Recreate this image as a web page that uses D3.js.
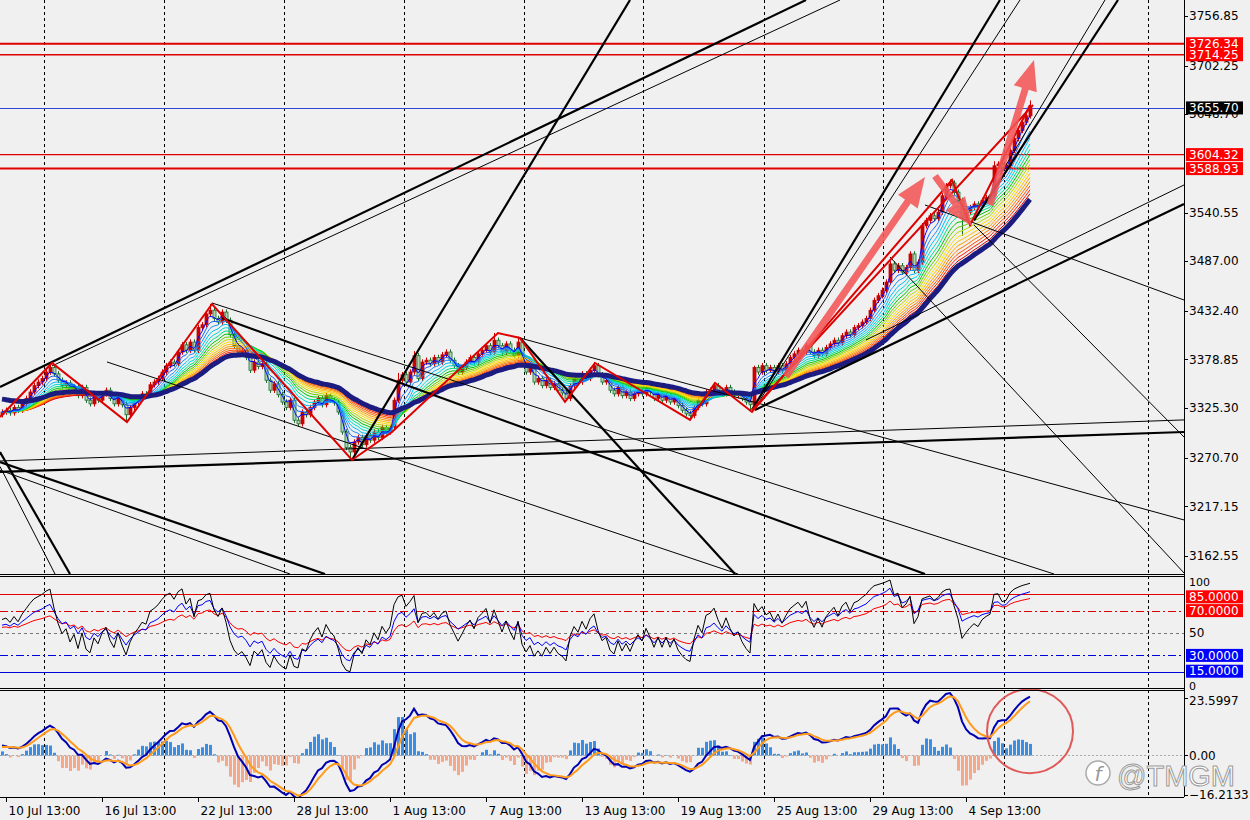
<!DOCTYPE html>
<html><head><meta charset="utf-8">
<script src="https://cdn.jsdelivr.net/npm/d3@7"></script>
<style>
body{margin:0;background:#f0f0f0;}
svg{display:block;font-family:Tahoma,"DejaVu Sans",Verdana,sans-serif;}
</style></head>
<body><svg id="c" width="1250" height="820"></svg>
<script>
// ---------------- DATA ----------------
const firstBar = -1;                     // bar index of first close (bar 0 = "10 Jul 13:00")
const closes = [3321,3323,3320,3326,3323,3330,3336,3343,3350,3354,3358,3365,3370,3363,3356,3350,3353,3345,3349,3339,3348,3334,3330,3339,3334,3341,3345,3336,3330,3339,3329,3318,3326,3332,3336,3341,3340,3351,3354,3358,3365,3372,3376,3374,3387,3395,3389,3398,3389,3414,3417,3429,3433,3424,3420,3431,3422,3406,3394,3387,3389,3381,3367,3376,3371,3374,3356,3345,3352,3340,3332,3326,3334,3312,3308,3321,3318,3326,3332,3336,3329,3339,3334,3331,3321,3299,3282,3277,3288,3293,3285,3295,3290,3299,3293,3304,3299,3304,3334,3356,3362,3354,3365,3383,3358,3376,3378,3374,3381,3376,3384,3387,3378,3372,3365,3370,3376,3381,3376,3385,3389,3394,3387,3400,3394,3387,3396,3389,3383,3398,3376,3365,3370,3354,3358,3350,3356,3348,3352,3345,3342,3336,3350,3358,3354,3363,3358,3367,3372,3362,3354,3356,3345,3341,3348,3339,3343,3336,3341,3345,3341,3348,3343,3336,3341,3334,3339,3332,3336,3328,3323,3319,3317,3326,3334,3330,3343,3345,3350,3345,3341,3348,3343,3339,3341,3336,3332,3329,3370,3365,3372,3367,3370,3365,3372,3367,3374,3381,3385,3389,3387,3394,3387,3383,3389,3385,3392,3396,3400,3397,3405,3409,3406,3414,3416,3420,3424,3433,3444,3449,3455,3464,3484,3477,3482,3475,3480,3495,3477,3486,3526,3532,3537,3534,3541,3559,3570,3573,3563,3554,3535,3541,3546,3550,3548,3554,3557,3559,3592,3594,3590,3592,3609,3622,3631,3640,3647,3655.7];
const firstOpen = 3318;
const highExtremes = {11:3375, 51:3440, 98:3364, 102:3388, 122:3408, 128:3404, 147:3376, 187:3372, 236:3577, 247:3597, 256:3664};
const lowExtremes = {30:3310, 86:3268, 140:3333, 171:3312, 186:3321, 239:3515};
const wickSize = 3;

const dateLabels = ["10 Jul 13:00","16 Jul 13:00","22 Jul 13:00","28 Jul 13:00","1 Aug 13:00","7 Aug 13:00","13 Aug 13:00","19 Aug 13:00","25 Aug 13:00","29 Aug 13:00","4 Sep 13:00"];
const dateLabelBars = [0,24,48,72,96,120,144,168,192,216,240];
const gridBars = [9.5,39.5,69.5,99.5,129.5,159.25,189.5,219.25,249.5,285.5];
const priceTicks = [3756.85,3702.25,3648.70,3540.55,3487.00,3432.40,3378.85,3325.30,3270.70,3217.15,3162.55];
const priceRange = [3142.7, 3774.5];
const barRange = [-1.5, 294.5];

const redLevels = [3726.34, 3714.25, 3604.32, 3588.93];
const redLevelBold = [true, false, false, true];
const bidLevel = 3655.70;

const ribbonPeriods = [3,5,7,9,11,13,15,17,19,21,23,25,27,29,31,33];
const ribbonColors = ["#0000ff","#1560ff","#1e90ff","#00bfff","#00d8d8","#00e08a","#00c800","#66d000","#b8d800","#ffe000","#ffc000","#ffa000","#ff7800","#ff5000","#ff2000","#d00000"];
const trendPeriod = 36;
const trendSeed = 3336;

// trend lines: [bar1, price1, bar2, price2]
const thickLines = [
  [-1.5, 3348.6, 200, 3774.5],
  [86.5, 3268.2, 156, 3774.5],
  [54, 3424.5, 229.75, 3142.7],
  [187.25, 3323.3, 294.5, 3550.0],
  [-1.5, 3255.0, 294.5, 3299.0],
  [186.5, 3323.3, 248.5, 3774.5],
  [242, 3532.0, 278, 3774.5],
  [128.5, 3402.5, 182.25, 3142.7],
  [-1.5, 3266.0, 79.75, 3142.7],
  [-1.5, 3277.0, 16, 3142.7]
];
const thinLines = [
  [11.5, 3371.7, 208.5, 3774.5],
  [-1.5, 3267.1, 294.5, 3312.3],
  [51.5, 3441.0, 262, 3142.7],
  [221, 3491.6, 294.75, 3142.7],
  [229.75, 3548.9, 294.5, 3444.3],
  [242, 3526.9, 294.5, 3293.5],
  [128.5, 3402.5, 294.5, 3202.2],
  [215, 3400.3, 294.5, 3570.9],
  [248.5, 3581.9, 274.75, 3774.5],
  [188.5, 3334.3, 253.5, 3774.5],
  [25.25, 3376.1, 183, 3142.7],
  [-1.5, 3261.0, 12.25, 3142.7],
  [-1.5, 3257.0, 71, 3142.7]
];
// zigzag (red)
const zigzag = [[-1.5,3315.5],[11.5,3375.0],[30.25,3310.0],[51.5,3439.9],[86.5,3268.2],[96.5,3299.0],[123,3408.0],[128.5,3402.5],[139.75,3332.1],[147.25,3375.0],[171,3312.3],[177.25,3353.0],[186.5,3321.1],[236.5,3576.4],[241,3526.9],[256,3658.9]];
const redRay = [186.5, 3323.3, 256.75, 3658.9];
// arrows [bar0, price0, bar1, price1]
const arrows = [[195, 3360, 229.75, 3579.7],[232.25, 3580.8, 241.5, 3525.8],[246, 3548.9, 257, 3708.5]];

const rsiPeriods = [6, 12, 24];
const rsiSeeds = [62, 57, 55];
const rsiColors = ["#000000","#0000ff","#ff0000"];
const stochLevels = [85, 70, 50, 30, 15];

const macdFast = 6, macdSlow = 13, macdSignal = 4, histFactor = 2.5;
const macdStart = 3.0;
const macdTicks = [23.5997, 0, -16.2133];
const circleAt = [256, 10.0];

// ---------------- LAYOUT ----------------
const W = 1184;
const svg = d3.select("#c");
const x = d3.scaleLinear().domain(barRange).range([0, W]);
const y = d3.scaleLinear().domain(priceRange).range([574, 0]);
const yS = d3.scaleLinear().domain([0,100]).range([689,577]);
const yM = d3.scaleLinear().domain([-16.2133, 23.5997]).range([795, 698]);

const bars = closes.map((c,k)=>k+firstBar);
const opens = closes.map((c,k)=>k===0?firstOpen:closes[k-1]);
const highs = closes.map((c,k)=>{const b=bars[k]; return highExtremes[b]!==undefined?highExtremes[b]:Math.max(c,opens[k])+wickSize;});
const lows = closes.map((c,k)=>{const b=bars[k]; return lowExtremes[b]!==undefined?lowExtremes[b]:Math.min(c,opens[k])-wickSize;});

svg.append("rect").attr("width",1250).attr("height",820).attr("fill","#f0f0f0");
const defs = svg.append("defs");
defs.append("clipPath").attr("id","cm").append("rect").attr("x",0).attr("y",0).attr("width",W).attr("height",574);
defs.append("clipPath").attr("id","cs").append("rect").attr("x",0).attr("y",577).attr("width",W).attr("height",111);
defs.append("clipPath").attr("id","cd").append("rect").attr("x",0).attr("y",691).attr("width",W).attr("height",106);

// grid lines
[[0,574],[576,688],[690,797]].forEach(([a,b])=>{
  svg.append("g").selectAll("line").data(gridBars).join("line")
    .attr("x1",d=>Math.round(x(d))+0.5).attr("x2",d=>Math.round(x(d))+0.5)
    .attr("y1",a).attr("y2",b).attr("stroke","#000").attr("stroke-dasharray","3,3").attr("stroke-width",1);
});

const main = svg.append("g").attr("clip-path","url(#cm)");

// horizontal levels
redLevels.forEach((p,k)=>{
  main.append("line").attr("x1",0).attr("x2",W).attr("y1",y(p)).attr("y2",y(p))
    .attr("stroke","#e00000").attr("stroke-width",redLevelBold[k]?2:1.3);
});
main.append("line").attr("x1",0).attr("x2",W).attr("y1",Math.round(y(bidLevel))+0.5).attr("y2",Math.round(y(bidLevel))+0.5).attr("stroke","#3344dd").attr("stroke-width",1);

// candles
const cg = main.append("g");
bars.forEach((b,k)=>{
  const up = closes[k] >= opens[k];
  const cx = Math.round(x(b))+0.5;
  const col = up ? "#cc0000" : "#1b6e2e";
  cg.append("line").attr("x1",cx).attr("x2",cx).attr("y1",y(highs[k])).attr("y2",y(lows[k])).attr("stroke",col).attr("stroke-width",1);
  const top = y(Math.max(opens[k],closes[k])), bot = y(Math.min(opens[k],closes[k]));
  cg.append("rect").attr("x",cx-1.5).attr("y",top).attr("width",3).attr("height",Math.max(1,bot-top))
    .attr("fill", up ? "#cc0000" : "#a8d8b0").attr("stroke",col).attr("stroke-width",0.8);
});

// EMAs
function ema(vals, period, seed){ const a=2/(period+1); let e = seed===undefined?vals[0]:seed; return vals.map(v=> (e = e + a*(v-e))); }
const lineGen = d3.line().x((d,k)=>x(bars[k])).y(d=>y(d)).curve(d3.curveMonotoneX);
ribbonPeriods.slice().reverse().forEach((p,kk)=>{
  const k = ribbonPeriods.length-1-kk;
  main.append("path").attr("d",lineGen(ema(closes,p))).attr("fill","none").attr("stroke",ribbonColors[k]).attr("stroke-width",1);
});
main.append("path").attr("d",lineGen(ema(closes,trendPeriod,trendSeed))).attr("fill","none").attr("stroke","#1c1c80").attr("stroke-width",5).attr("stroke-linejoin","round");

// trend lines
thickLines.forEach(l=>main.append("line").attr("x1",x(l[0])).attr("y1",y(l[1])).attr("x2",x(l[2])).attr("y2",y(l[3])).attr("stroke","#000").attr("stroke-width",2.2));
thinLines.forEach(l=>main.append("line").attr("x1",x(l[0])).attr("y1",y(l[1])).attr("x2",x(l[2])).attr("y2",y(l[3])).attr("stroke","#000").attr("stroke-width",1));

// zigzag
main.append("path").attr("d",d3.line().x(d=>x(d[0])).y(d=>y(d[1]))(zigzag)).attr("fill","none").attr("stroke","#dd0000").attr("stroke-width",2);
main.append("line").attr("x1",x(redRay[0])).attr("y1",y(redRay[1])).attr("x2",x(redRay[2])).attr("y2",y(redRay[3])).attr("stroke","#dd0000").attr("stroke-width",2);

// arrows
arrows.forEach(a=>{
  const x0=x(a[0]), y0=y(a[1]), x1=x(a[2]), y1=y(a[3]);
  const dx=x1-x0, dy=y1-y0, L=Math.hypot(dx,dy), ux=dx/L, uy=dy/L, nx=-uy, ny=ux;
  const hl=Math.min(30, L*0.45), hw=12, sw=3.5;
  const bx=x1-ux*hl, by=y1-uy*hl;
  const pts=[[x0+nx*sw,y0+ny*sw],[bx+nx*sw,by+ny*sw],[bx+nx*hw,by+ny*hw],[x1,y1],[bx-nx*hw,by-ny*hw],[bx-nx*sw,by-ny*sw],[x0-nx*sw,y0-ny*sw]];
  main.append("polygon").attr("points",pts.map(p=>p.join(",")).join(" ")).attr("fill","#f25555").attr("opacity",0.88);
});

// ---------- RSI panel ----------
function rsi(vals, period, seed){
  const avgL0 = 4; let al = avgL0, ag = avgL0*seed/(100-seed);
  return vals.map((v,k)=>{ if(k>0){ const ch=v-vals[k-1]; ag=(ag*(period-1)+Math.max(ch,0))/period; al=(al*(period-1)+Math.max(-ch,0))/period; } return al===0?100:100-100/(1+ag/al); });
}
const sg = svg.append("g").attr("clip-path","url(#cs)");
const lvlStyle = {85:["#e00000",null],70:["#e00000","8,3,2,3"],50:["#777","3,3"],30:["#0000dd","8,3,2,3"],15:["#0000dd",null]};
stochLevels.forEach(v=>{
  const st=lvlStyle[v];
  sg.append("line").attr("x1",0).attr("x2",W).attr("y1",Math.round(yS(v))+0.5).attr("y2",Math.round(yS(v))+0.5).attr("stroke",st[0]).attr("stroke-width",1).attr("stroke-dasharray",st[1]);
});
const sLine = d3.line().x((d,k)=>x(bars[k])).y(d=>yS(d));
rsiPeriods.slice().reverse().forEach((p,kk)=>{
  const k = rsiPeriods.length-1-kk;
  sg.append("path").attr("d",sLine(rsi(closes,p,rsiSeeds[k]))).attr("fill","none").attr("stroke",rsiColors[k]).attr("stroke-width",1);
});

// ---------- MACD panel ----------
const e1 = ema(closes, macdFast), e2 = ema(closes, macdSlow, closes[0]-macdStart*1.6);
const macd = e1.map((v,k)=>v-e2[k]);
const sig = ema(macd, macdSignal, macdStart);
const hist = macd.map((v,k)=>(v-sig[k])*histFactor);
const mg = svg.append("g").attr("clip-path","url(#cd)");
mg.append("line").attr("x1",0).attr("x2",W).attr("y1",Math.round(yM(0))+0.5).attr("y2",Math.round(yM(0))+0.5).attr("stroke","#aaa").attr("stroke-dasharray","2,2");
mg.selectAll("rect.h").data(hist).join("rect").attr("class","h")
  .attr("x",(d,k)=>Math.round(x(bars[k]))-1).attr("width",3)
  .attr("y",d=>d>=0?yM(d):yM(0)).attr("height",d=>Math.abs(yM(d)-yM(0)))
  .attr("fill",d=>d>=0?"#3a8ee6":"#f5a88a");
const mLine = d3.line().x((d,k)=>x(bars[k])).y(d=>yM(d));
mg.append("path").attr("d",mLine(macd)).attr("fill","none").attr("stroke","#0000b0").attr("stroke-width",2);
mg.append("path").attr("d",mLine(sig)).attr("fill","none").attr("stroke","#ff9a1a").attr("stroke-width",2);
svg.append("ellipse").attr("cx",x(circleAt[0])).attr("cy",yM(circleAt[1])).attr("rx",43).attr("ry",42).attr("fill","none").attr("stroke","#e05a5a").attr("stroke-width",2);

// ---------- frames ----------
const fr = svg.append("g").attr("stroke","#000").attr("fill","none");
fr.append("line").attr("x1",W+0.5).attr("x2",W+0.5).attr("y1",0).attr("y2",797);
[574.5,576.5,688.5,690.5,797.5].forEach(v=>fr.append("line").attr("x1",0).attr("x2",W).attr("y1",v).attr("y2",v));

// ---------- axes text ----------
const ax = svg.append("g").attr("font-size",12).attr("fill","#000");
priceTicks.forEach(p=>{
  ax.append("line").attr("x1",W).attr("x2",W+4).attr("y1",Math.round(y(p))+0.5).attr("y2",Math.round(y(p))+0.5).attr("stroke","#000");
  ax.append("text").attr("x",1189).attr("y",y(p)).attr("dy","0.35em").text(d3.format(".2f")(p));
});
function tag(v, yy, bg){
  ax.append("rect").attr("x",1186).attr("y",yy-6.5).attr("width",57).attr("height",13).attr("fill",bg);
  ax.append("text").attr("x",1189).attr("y",yy).attr("dy","0.35em").attr("fill","#fff").text(v);
}
redLevels.forEach(p=>tag(d3.format(".2f")(p), y(p), "#ff0000"));
tag(d3.format(".2f")(bidLevel), y(bidLevel), "#000");
// rsi labels
ax.append("text").attr("x",1189).attr("y",yS(100)+5).attr("dy","0.35em").attr("font-size",11).text("100");
ax.append("text").attr("x",1189).attr("y",yS(50)).attr("dy","0.35em").text("50");
ax.append("text").attr("x",1189).attr("y",yS(0)-3).attr("dy","0.35em").attr("font-size",11).text("0");
tag("85.0000", yS(85)+3, "#ff0000");
tag("70.0000", yS(70), "#ff0000");
tag("30.0000", yS(30), "#0000ff");
tag("15.0000", yS(15)-1, "#0000ff");
macdTicks.forEach(v=>{
  ax.append("line").attr("x1",W).attr("x2",W+4).attr("y1",Math.round(yM(v))+0.5).attr("y2",Math.round(yM(v))+0.5).attr("stroke","#000");
  ax.append("text").attr("x",1189).attr("y",yM(v)+(v===macdTicks[0]?3:0)).attr("dy","0.35em").text(v===0?"0.00":d3.format(".4f")(v));
});
// date axis
dateLabelBars.forEach((b,k)=>{
  const xx = Math.round(x(b))+0.5;
  ax.append("line").attr("x1",xx).attr("x2",xx).attr("y1",797).attr("y2",802).attr("stroke","#000");
  ax.append("text").attr("x",xx+2).attr("y",811).attr("dy","0.35em").text(dateLabels[k]);
});

// watermark
const wm = svg.append("g");
wm.append("circle").attr("cx",1098).attr("cy",773).attr("r",12).attr("fill","#fff").attr("stroke","#aaa").attr("stroke-width",1.5);
wm.append("text").attr("x",1098).attr("y",781).attr("text-anchor","middle").attr("font-size",20).attr("font-style","italic").attr("fill","#999").text("f");
wm.append("text").attr("x",1117).attr("y",786).attr("font-size",29).attr("fill","#fff").attr("stroke","#9a9a9a").attr("stroke-width",1).attr("font-family","'Liberation Sans',Arial,sans-serif").text("@TMGM");
</script></body></html>
